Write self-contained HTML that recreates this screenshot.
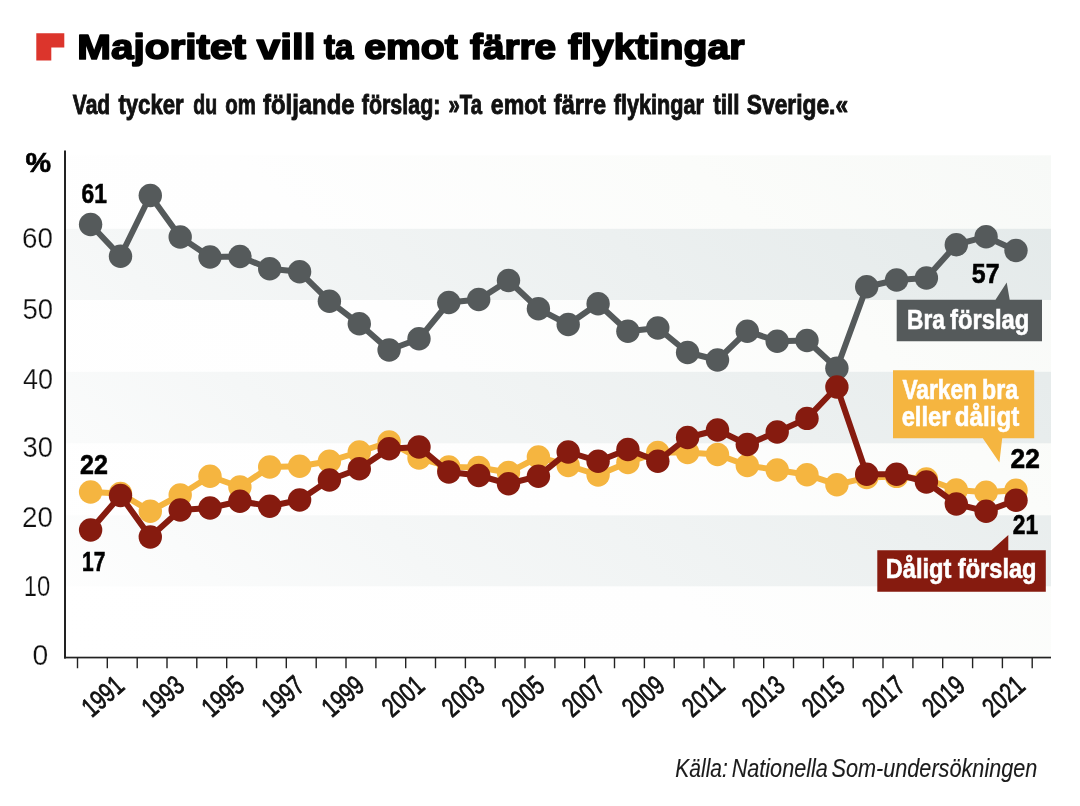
<!DOCTYPE html>
<html lang="sv"><head><meta charset="utf-8"><title>Majoritet vill ta emot färre flyktingar</title>
<style>
html,body{margin:0;padding:0;background:#fff;}
body{width:1080px;height:806px;overflow:hidden;}
svg{display:block;}
text{font-family:"Liberation Sans",sans-serif;}
.b{font-weight:bold;}
</style></head><body>
<svg width="1080" height="806" viewBox="0 0 1080 806">
<defs>
<linearGradient id="gw" gradientUnits="userSpaceOnUse" x1="66" y1="657" x2="809.5" y2="-86.5">
<stop offset="0" stop-color="#ffffff"/><stop offset="0.45" stop-color="#fefefe"/><stop offset="0.75" stop-color="#fbfcfa"/><stop offset="1" stop-color="#f7f9f7"/></linearGradient>
<linearGradient id="gg" gradientUnits="userSpaceOnUse" x1="66" y1="657" x2="809.5" y2="-86.5">
<stop offset="0" stop-color="#ffffff"/><stop offset="0.3" stop-color="#f5f7f7"/><stop offset="0.65" stop-color="#ecf0f0"/><stop offset="1" stop-color="#e3e9e9"/></linearGradient>
</defs>
<rect width="1080" height="806" fill="#fff"/>
<rect x="66" y="155.3" width="985" height="502.2" fill="url(#gw)"/>
<rect x="66" y="515.3" width="985" height="71.0" fill="url(#gg)"/>
<rect x="66" y="371.8" width="985" height="71.5" fill="url(#gg)"/>
<rect x="66" y="228.8" width="985" height="71.2" fill="url(#gg)"/>
<path d="M36.3 33.3H64.3V47.5H51.3V60.5H36.3Z" fill="#dc352c"/>
<g>
<text class="b" x="77.22" y="58.5" font-size="35.6" textLength="168.76" lengthAdjust="spacingAndGlyphs" fill="#000" stroke="#000" stroke-width="1.7" stroke-linejoin="round">Majoritet</text>
<text class="b" x="256.85" y="58.5" font-size="35.6" textLength="58.66" lengthAdjust="spacingAndGlyphs" fill="#000" stroke="#000" stroke-width="1.7" stroke-linejoin="round">vill</text>
<text class="b" x="324.02" y="58.5" font-size="35.6" textLength="29.34" lengthAdjust="spacingAndGlyphs" fill="#000" stroke="#000" stroke-width="1.7" stroke-linejoin="round">ta</text>
<text class="b" x="364.23" y="58.5" font-size="35.6" textLength="93.48" lengthAdjust="spacingAndGlyphs" fill="#000" stroke="#000" stroke-width="1.7" stroke-linejoin="round">emot</text>
<text class="b" x="470.02" y="58.5" font-size="35.6" textLength="86.09" lengthAdjust="spacingAndGlyphs" fill="#000" stroke="#000" stroke-width="1.7" stroke-linejoin="round">färre</text>
<text class="b" x="568.01" y="58.5" font-size="35.6" textLength="176.44" lengthAdjust="spacingAndGlyphs" fill="#000" stroke="#000" stroke-width="1.7" stroke-linejoin="round">flyktingar</text>
</g>
<g>
<text class="b" x="72.79" y="113.5" font-size="27" textLength="37.44" lengthAdjust="spacingAndGlyphs" fill="#111" stroke="#111" stroke-width="0.9">Vad</text>
<text class="b" x="118.43" y="113.5" font-size="27" textLength="65.23" lengthAdjust="spacingAndGlyphs" fill="#111" stroke="#111" stroke-width="0.9">tycker</text>
<text class="b" x="193.37" y="113.5" font-size="27" textLength="23.76" lengthAdjust="spacingAndGlyphs" fill="#111" stroke="#111" stroke-width="0.9">du</text>
<text class="b" x="225.19" y="113.5" font-size="27" textLength="30.62" lengthAdjust="spacingAndGlyphs" fill="#111" stroke="#111" stroke-width="0.9">om</text>
<text class="b" x="263.04" y="113.5" font-size="27" textLength="91.55" lengthAdjust="spacingAndGlyphs" fill="#111" stroke="#111" stroke-width="0.9">följande</text>
<text class="b" x="361.83" y="113.5" font-size="27" textLength="78.51" lengthAdjust="spacingAndGlyphs" fill="#111" stroke="#111" stroke-width="0.9">förslag:</text>
<text class="b" x="448.49" y="113.5" font-size="27" textLength="33.43" lengthAdjust="spacingAndGlyphs" fill="#111" stroke="#111" stroke-width="0.9">»Ta</text>
<text class="b" x="490.84" y="113.5" font-size="27" textLength="55.19" lengthAdjust="spacingAndGlyphs" fill="#111" stroke="#111" stroke-width="0.9">emot</text>
<text class="b" x="553.80" y="113.5" font-size="27" textLength="52.29" lengthAdjust="spacingAndGlyphs" fill="#111" stroke="#111" stroke-width="0.9">färre</text>
<text class="b" x="613.83" y="113.5" font-size="27" textLength="90.08" lengthAdjust="spacingAndGlyphs" fill="#111" stroke="#111" stroke-width="0.9">flykingar</text>
<text class="b" x="713.18" y="113.5" font-size="27" textLength="26.20" lengthAdjust="spacingAndGlyphs" fill="#111" stroke="#111" stroke-width="0.9">till</text>
<text class="b" x="746.83" y="113.5" font-size="27" textLength="101.21" lengthAdjust="spacingAndGlyphs" fill="#111" stroke="#111" stroke-width="0.9">Sverige.«</text>
</g>
<rect x="64" y="150.5" width="2" height="508" fill="#222"/>
<rect x="64" y="656.7" width="987" height="1.7" fill="#222"/>
<path d="M77.5 657V668.2M107.3 657V668.2M137.2 657V668.2M167.0 657V668.2M196.8 657V668.2M226.7 657V668.2M256.5 657V668.2M286.3 657V668.2M316.2 657V668.2M346.0 657V668.2M375.9 657V668.2M405.7 657V668.2M435.5 657V668.2M465.4 657V668.2M495.2 657V668.2M525.0 657V668.2M554.9 657V668.2M584.7 657V668.2M614.5 657V668.2M644.4 657V668.2M674.2 657V668.2M704.0 657V668.2M733.9 657V668.2M763.7 657V668.2M793.5 657V668.2M823.4 657V668.2M853.2 657V668.2M883.0 657V668.2M912.9 657V668.2M942.7 657V668.2M972.6 657V668.2M1002.4 657V668.2M1032.2 657V668.2" stroke="#222" stroke-width="1.4" fill="none"/>
<text class="b" x="25.42" y="172.3" font-size="27" textLength="25.57" lengthAdjust="spacingAndGlyphs" fill="#000" stroke="#000" stroke-width="0.6">%</text>
<text x="22.11" y="248.3" font-size="29.2" textLength="30.89" lengthAdjust="spacingAndGlyphs" fill="#111" stroke="#fff" stroke-width="0.25">60</text>
<text x="22.40" y="319.2" font-size="29.2" textLength="30.59" lengthAdjust="spacingAndGlyphs" fill="#111" stroke="#fff" stroke-width="0.25">50</text>
<text x="22.96" y="388.5" font-size="29.2" textLength="30.02" lengthAdjust="spacingAndGlyphs" fill="#111" stroke="#fff" stroke-width="0.25">40</text>
<text x="22.54" y="457.2" font-size="29.2" textLength="30.45" lengthAdjust="spacingAndGlyphs" fill="#111" stroke="#fff" stroke-width="0.25">30</text>
<text x="22.11" y="526.5" font-size="29.2" textLength="30.89" lengthAdjust="spacingAndGlyphs" fill="#111" stroke="#fff" stroke-width="0.25">20</text>
<text x="23.81" y="595.8" font-size="29.2" textLength="26.55" lengthAdjust="spacingAndGlyphs" fill="#111" stroke="#fff" stroke-width="0.25">10</text>
<text x="32.41" y="665.4" font-size="29.2" textLength="15.71" lengthAdjust="spacingAndGlyphs" fill="#111" stroke="#fff" stroke-width="0.25">0</text>
<polyline points="90.6,224.5 120.5,256.2 150.3,195.5 180.2,237.0 210.0,257.0 239.9,256.5 269.7,268.8 299.6,271.8 329.4,301.2 359.3,323.8 389.1,350.0 419.0,338.8 448.8,302.5 478.7,299.5 508.5,280.5 538.4,308.8 568.2,324.5 598.1,303.8 627.9,331.2 657.8,328.0 687.6,352.5 717.5,360.0 747.3,331.2 777.2,341.2 807.0,340.5 836.9,368.2 866.7,286.8 896.6,280.0 926.4,278.0 956.3,244.7 986.1,236.7 1016.0,250.5" fill="none" stroke="#555a5b" stroke-width="6" stroke-linejoin="round"/>
<g fill="#555a5b"><circle cx="90.6" cy="224.5" r="11.7"/><circle cx="120.5" cy="256.2" r="11.7"/><circle cx="150.3" cy="195.5" r="11.7"/><circle cx="180.2" cy="237.0" r="11.7"/><circle cx="210.0" cy="257.0" r="11.7"/><circle cx="239.9" cy="256.5" r="11.7"/><circle cx="269.7" cy="268.8" r="11.7"/><circle cx="299.6" cy="271.8" r="11.7"/><circle cx="329.4" cy="301.2" r="11.7"/><circle cx="359.3" cy="323.8" r="11.7"/><circle cx="389.1" cy="350.0" r="11.7"/><circle cx="419.0" cy="338.8" r="11.7"/><circle cx="448.8" cy="302.5" r="11.7"/><circle cx="478.7" cy="299.5" r="11.7"/><circle cx="508.5" cy="280.5" r="11.7"/><circle cx="538.4" cy="308.8" r="11.7"/><circle cx="568.2" cy="324.5" r="11.7"/><circle cx="598.1" cy="303.8" r="11.7"/><circle cx="627.9" cy="331.2" r="11.7"/><circle cx="657.8" cy="328.0" r="11.7"/><circle cx="687.6" cy="352.5" r="11.7"/><circle cx="717.5" cy="360.0" r="11.7"/><circle cx="747.3" cy="331.2" r="11.7"/><circle cx="777.2" cy="341.2" r="11.7"/><circle cx="807.0" cy="340.5" r="11.7"/><circle cx="836.9" cy="368.2" r="11.7"/><circle cx="866.7" cy="286.8" r="11.7"/><circle cx="896.6" cy="280.0" r="11.7"/><circle cx="926.4" cy="278.0" r="11.7"/><circle cx="956.3" cy="244.7" r="11.7"/><circle cx="986.1" cy="236.7" r="11.7"/><circle cx="1016.0" cy="250.5" r="11.7"/></g>
<polyline points="90.6,492.0 120.5,493.5 150.3,511.2 180.2,495.0 210.0,476.2 239.9,487.0 269.7,467.0 299.6,466.2 329.4,461.2 359.3,452.0 389.1,442.0 419.0,458.0 448.8,467.0 478.7,467.5 508.5,472.5 538.4,457.0 568.2,465.5 598.1,475.0 627.9,462.5 657.8,452.5 687.6,452.5 717.5,454.5 747.3,465.5 777.2,470.0 807.0,474.7 836.9,484.7 866.7,477.6 896.6,476.4 926.4,479.0 956.3,490.0 986.1,492.3 1016.0,490.2" fill="none" stroke="#f5b540" stroke-width="6" stroke-linejoin="round"/>
<g fill="#f5b540"><circle cx="90.6" cy="492.0" r="11.7"/><circle cx="120.5" cy="493.5" r="11.7"/><circle cx="150.3" cy="511.2" r="11.7"/><circle cx="180.2" cy="495.0" r="11.7"/><circle cx="210.0" cy="476.2" r="11.7"/><circle cx="239.9" cy="487.0" r="11.7"/><circle cx="269.7" cy="467.0" r="11.7"/><circle cx="299.6" cy="466.2" r="11.7"/><circle cx="329.4" cy="461.2" r="11.7"/><circle cx="359.3" cy="452.0" r="11.7"/><circle cx="389.1" cy="442.0" r="11.7"/><circle cx="419.0" cy="458.0" r="11.7"/><circle cx="448.8" cy="467.0" r="11.7"/><circle cx="478.7" cy="467.5" r="11.7"/><circle cx="508.5" cy="472.5" r="11.7"/><circle cx="538.4" cy="457.0" r="11.7"/><circle cx="568.2" cy="465.5" r="11.7"/><circle cx="598.1" cy="475.0" r="11.7"/><circle cx="627.9" cy="462.5" r="11.7"/><circle cx="657.8" cy="452.5" r="11.7"/><circle cx="687.6" cy="452.5" r="11.7"/><circle cx="717.5" cy="454.5" r="11.7"/><circle cx="747.3" cy="465.5" r="11.7"/><circle cx="777.2" cy="470.0" r="11.7"/><circle cx="807.0" cy="474.7" r="11.7"/><circle cx="836.9" cy="484.7" r="11.7"/><circle cx="866.7" cy="477.6" r="11.7"/><circle cx="896.6" cy="476.4" r="11.7"/><circle cx="926.4" cy="479.0" r="11.7"/><circle cx="956.3" cy="490.0" r="11.7"/><circle cx="986.1" cy="492.3" r="11.7"/><circle cx="1016.0" cy="490.2" r="11.7"/></g>
<polyline points="90.6,530.0 120.5,495.5 150.3,537.0 180.2,510.0 210.0,508.0 239.9,501.2 269.7,506.2 299.6,500.0 329.4,480.0 359.3,468.8 389.1,448.8 419.0,447.0 448.8,472.0 478.7,475.5 508.5,483.8 538.4,476.2 568.2,452.0 598.1,461.2 627.9,449.5 657.8,461.2 687.6,437.5 717.5,430.0 747.3,444.5 777.2,432.0 807.0,418.4 836.9,387.0 866.7,474.2 896.6,474.2 926.4,482.0 956.3,504.0 986.1,511.3 1016.0,500.2" fill="none" stroke="#861b0f" stroke-width="6" stroke-linejoin="round"/>
<g fill="#861b0f"><circle cx="90.6" cy="530.0" r="11.7"/><circle cx="120.5" cy="495.5" r="11.7"/><circle cx="150.3" cy="537.0" r="11.7"/><circle cx="180.2" cy="510.0" r="11.7"/><circle cx="210.0" cy="508.0" r="11.7"/><circle cx="239.9" cy="501.2" r="11.7"/><circle cx="269.7" cy="506.2" r="11.7"/><circle cx="299.6" cy="500.0" r="11.7"/><circle cx="329.4" cy="480.0" r="11.7"/><circle cx="359.3" cy="468.8" r="11.7"/><circle cx="389.1" cy="448.8" r="11.7"/><circle cx="419.0" cy="447.0" r="11.7"/><circle cx="448.8" cy="472.0" r="11.7"/><circle cx="478.7" cy="475.5" r="11.7"/><circle cx="508.5" cy="483.8" r="11.7"/><circle cx="538.4" cy="476.2" r="11.7"/><circle cx="568.2" cy="452.0" r="11.7"/><circle cx="598.1" cy="461.2" r="11.7"/><circle cx="627.9" cy="449.5" r="11.7"/><circle cx="657.8" cy="461.2" r="11.7"/><circle cx="687.6" cy="437.5" r="11.7"/><circle cx="717.5" cy="430.0" r="11.7"/><circle cx="747.3" cy="444.5" r="11.7"/><circle cx="777.2" cy="432.0" r="11.7"/><circle cx="807.0" cy="418.4" r="11.7"/><circle cx="836.9" cy="387.0" r="11.7"/><circle cx="866.7" cy="474.2" r="11.7"/><circle cx="896.6" cy="474.2" r="11.7"/><circle cx="926.4" cy="482.0" r="11.7"/><circle cx="956.3" cy="504.0" r="11.7"/><circle cx="986.1" cy="511.3" r="11.7"/><circle cx="1016.0" cy="500.2" r="11.7"/></g>
<text class="b" x="81.50" y="202.8" font-size="27" textLength="25.29" lengthAdjust="spacingAndGlyphs" fill="#000" stroke="#000" stroke-width="0.6">61</text>
<text class="b" x="80.05" y="473.8" font-size="27" textLength="27.86" lengthAdjust="spacingAndGlyphs" fill="#000" stroke="#000" stroke-width="0.6">22</text>
<text class="b" x="82.04" y="571.3" font-size="27" textLength="23.32" lengthAdjust="spacingAndGlyphs" fill="#000" stroke="#000" stroke-width="0.6">17</text>
<text class="b" x="971.85" y="282.5" font-size="27" textLength="27.67" lengthAdjust="spacingAndGlyphs" fill="#000" stroke="#000" stroke-width="0.6">57</text>
<text class="b" x="1010.61" y="468" font-size="27" textLength="29.24" lengthAdjust="spacingAndGlyphs" fill="#000" stroke="#000" stroke-width="0.6">22</text>
<text class="b" x="1012.82" y="534.4" font-size="27" textLength="25.38" lengthAdjust="spacingAndGlyphs" fill="#000" stroke="#000" stroke-width="0.6">21</text>
<path d="M896.7 299.8H995.5L1006.7 282.5L1009.7 299.8H1042V341.3H896.7Z" fill="#555a5b"/>
<text class="b" x="907.02" y="328.6" font-size="27" textLength="37.88" lengthAdjust="spacingAndGlyphs" fill="#fff" stroke="#fff" stroke-width="0.6">Bra</text>
<text class="b" x="950.04" y="328.6" font-size="27" textLength="79.32" lengthAdjust="spacingAndGlyphs" fill="#fff" stroke="#fff" stroke-width="0.6">förslag</text>
<path d="M893 370.3H1034.2V438.3H1002.2L999.4 462.5L982.8 438.3H893Z" fill="#f5b540"/>
<text class="b" x="902.39" y="398.7" font-size="27" textLength="74.70" lengthAdjust="spacingAndGlyphs" fill="#fff" stroke="#fff" stroke-width="0.6">Varken</text>
<text class="b" x="981.99" y="398.7" font-size="27" textLength="36.10" lengthAdjust="spacingAndGlyphs" fill="#fff" stroke="#fff" stroke-width="0.6">bra</text>
<text class="b" x="901.67" y="426.1" font-size="27" textLength="48.87" lengthAdjust="spacingAndGlyphs" fill="#fff" stroke="#fff" stroke-width="0.6">eller</text>
<text class="b" x="954.83" y="426.1" font-size="27" textLength="64.46" lengthAdjust="spacingAndGlyphs" fill="#fff" stroke="#fff" stroke-width="0.6">dåligt</text>
<path d="M877.3 550.3H991.4L1008.3 535V550.3H1045.8V591.7H877.3Z" fill="#861b0f"/>
<text class="b" x="885.66" y="578.2" font-size="27" textLength="65.83" lengthAdjust="spacingAndGlyphs" fill="#fff" stroke="#fff" stroke-width="0.6">Dåligt</text>
<text class="b" x="957.85" y="578.2" font-size="27" textLength="78.71" lengthAdjust="spacingAndGlyphs" fill="#fff" stroke="#fff" stroke-width="0.6">förslag</text>
<text transform="translate(126.0 688.3) rotate(-41)" text-anchor="end" x="0" y="0" font-size="27.3" textLength="45.5" lengthAdjust="spacingAndGlyphs" fill="#111" stroke="#111" stroke-width="0.8">1991</text>
<text transform="translate(186.1 688.3) rotate(-41)" text-anchor="end" x="0" y="0" font-size="27.3" textLength="45.5" lengthAdjust="spacingAndGlyphs" fill="#111" stroke="#111" stroke-width="0.8">1993</text>
<text transform="translate(246.1 688.3) rotate(-41)" text-anchor="end" x="0" y="0" font-size="27.3" textLength="45.5" lengthAdjust="spacingAndGlyphs" fill="#111" stroke="#111" stroke-width="0.8">1995</text>
<text transform="translate(306.2 688.3) rotate(-41)" text-anchor="end" x="0" y="0" font-size="27.3" textLength="45.5" lengthAdjust="spacingAndGlyphs" fill="#111" stroke="#111" stroke-width="0.8">1997</text>
<text transform="translate(366.2 688.3) rotate(-41)" text-anchor="end" x="0" y="0" font-size="27.3" textLength="45.5" lengthAdjust="spacingAndGlyphs" fill="#111" stroke="#111" stroke-width="0.8">1999</text>
<text transform="translate(426.3 688.3) rotate(-41)" text-anchor="end" x="0" y="0" font-size="27.3" textLength="45.5" lengthAdjust="spacingAndGlyphs" fill="#111" stroke="#111" stroke-width="0.8">2001</text>
<text transform="translate(486.4 688.3) rotate(-41)" text-anchor="end" x="0" y="0" font-size="27.3" textLength="45.5" lengthAdjust="spacingAndGlyphs" fill="#111" stroke="#111" stroke-width="0.8">2003</text>
<text transform="translate(546.4 688.3) rotate(-41)" text-anchor="end" x="0" y="0" font-size="27.3" textLength="45.5" lengthAdjust="spacingAndGlyphs" fill="#111" stroke="#111" stroke-width="0.8">2005</text>
<text transform="translate(606.5 688.3) rotate(-41)" text-anchor="end" x="0" y="0" font-size="27.3" textLength="45.5" lengthAdjust="spacingAndGlyphs" fill="#111" stroke="#111" stroke-width="0.8">2007</text>
<text transform="translate(666.5 688.3) rotate(-41)" text-anchor="end" x="0" y="0" font-size="27.3" textLength="45.5" lengthAdjust="spacingAndGlyphs" fill="#111" stroke="#111" stroke-width="0.8">2009</text>
<text transform="translate(726.6 688.3) rotate(-41)" text-anchor="end" x="0" y="0" font-size="27.3" textLength="45.5" lengthAdjust="spacingAndGlyphs" fill="#111" stroke="#111" stroke-width="0.8">2011</text>
<text transform="translate(786.7 688.3) rotate(-41)" text-anchor="end" x="0" y="0" font-size="27.3" textLength="45.5" lengthAdjust="spacingAndGlyphs" fill="#111" stroke="#111" stroke-width="0.8">2013</text>
<text transform="translate(846.7 688.3) rotate(-41)" text-anchor="end" x="0" y="0" font-size="27.3" textLength="45.5" lengthAdjust="spacingAndGlyphs" fill="#111" stroke="#111" stroke-width="0.8">2015</text>
<text transform="translate(906.8 688.3) rotate(-41)" text-anchor="end" x="0" y="0" font-size="27.3" textLength="45.5" lengthAdjust="spacingAndGlyphs" fill="#111" stroke="#111" stroke-width="0.8">2017</text>
<text transform="translate(966.8 688.3) rotate(-41)" text-anchor="end" x="0" y="0" font-size="27.3" textLength="45.5" lengthAdjust="spacingAndGlyphs" fill="#111" stroke="#111" stroke-width="0.8">2019</text>
<text transform="translate(1026.9 688.3) rotate(-41)" text-anchor="end" x="0" y="0" font-size="27.3" textLength="45.5" lengthAdjust="spacingAndGlyphs" fill="#111" stroke="#111" stroke-width="0.8">2021</text>
<text font-style="italic" x="675.37" y="777.3" font-size="25.3" textLength="52.42" lengthAdjust="spacingAndGlyphs" fill="#1a1a1a" stroke="#1a1a1a" stroke-width="0.12">Källa:</text>
<text font-style="italic" x="731.65" y="777.3" font-size="25.3" textLength="96.22" lengthAdjust="spacingAndGlyphs" fill="#1a1a1a" stroke="#1a1a1a" stroke-width="0.12">Nationella</text>
<text font-style="italic" x="831.46" y="777.3" font-size="25.3" textLength="205.93" lengthAdjust="spacingAndGlyphs" fill="#1a1a1a" stroke="#1a1a1a" stroke-width="0.12">Som-undersökningen</text>
</svg>
</body></html>
